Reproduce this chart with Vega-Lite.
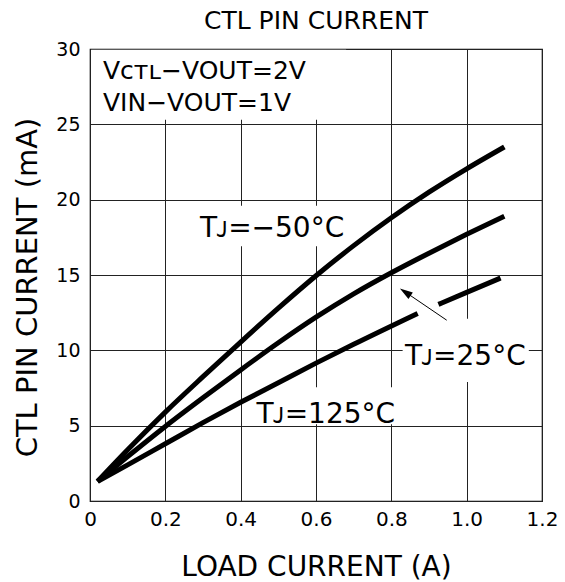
{
  "$schema": "https://vega.github.io/schema/vega-lite/v6.json",
  "width": 452,
  "height": 452,
  "autosize": {"type": "none"},
  "padding": {"left": 90, "top": 49, "right": 23, "bottom": 81},
  "background": "white",
  "config": {
    "view": {"stroke": "#000", "strokeWidth": 1.2},
    "font": "DejaVu Sans"
  },
  "title": {
    "text": "CTL PIN CURRENT",
    "font": "DejaVu Sans",
    "fontSize": 25,
    "fontWeight": "normal",
    "color": "#000",
    "anchor": "middle",
    "frame": "group",
    "baseline": "alphabetic",
    "offset": -14
  },
  "datasets": {
    "curves": [
      {"x": 0.02, "y": 1.3, "seg": "m50"},
      {"x": 0.1, "y": 3.4, "seg": "m50"},
      {"x": 0.2, "y": 5.9, "seg": "m50"},
      {"x": 0.3, "y": 8.25, "seg": "m50"},
      {"x": 0.4, "y": 10.55, "seg": "m50"},
      {"x": 0.5, "y": 12.8, "seg": "m50"},
      {"x": 0.6, "y": 14.95, "seg": "m50"},
      {"x": 0.7, "y": 16.95, "seg": "m50"},
      {"x": 0.8, "y": 18.8, "seg": "m50"},
      {"x": 0.9, "y": 20.5, "seg": "m50"},
      {"x": 1.0, "y": 22.05, "seg": "m50"},
      {"x": 1.1, "y": 23.5, "seg": "m50"},
      {"x": 0.02, "y": 1.3, "seg": "p25"},
      {"x": 0.1, "y": 2.95, "seg": "p25"},
      {"x": 0.2, "y": 4.95, "seg": "p25"},
      {"x": 0.3, "y": 6.85, "seg": "p25"},
      {"x": 0.4, "y": 8.7, "seg": "p25"},
      {"x": 0.5, "y": 10.5, "seg": "p25"},
      {"x": 0.6, "y": 12.2, "seg": "p25"},
      {"x": 0.7, "y": 13.75, "seg": "p25"},
      {"x": 0.8, "y": 15.15, "seg": "p25"},
      {"x": 0.9, "y": 16.45, "seg": "p25"},
      {"x": 1.0, "y": 17.7, "seg": "p25"},
      {"x": 1.1, "y": 18.9, "seg": "p25"},
      {"x": 0.02, "y": 1.3, "seg": "p125a"},
      {"x": 0.1, "y": 2.4, "seg": "p125a"},
      {"x": 0.2, "y": 3.8, "seg": "p125a"},
      {"x": 0.3, "y": 5.2, "seg": "p125a"},
      {"x": 0.4, "y": 6.55, "seg": "p125a"},
      {"x": 0.5, "y": 7.85, "seg": "p125a"},
      {"x": 0.6, "y": 9.15, "seg": "p125a"},
      {"x": 0.7, "y": 10.4, "seg": "p125a"},
      {"x": 0.87, "y": 12.45, "seg": "p125a"},
      {"x": 0.925, "y": 13.05, "seg": "p125b"},
      {"x": 1.0, "y": 13.85, "seg": "p125b"},
      {"x": 1.09, "y": 14.8, "seg": "p125b"}
    ],
    "boxes": [
      {"x": 0.003, "x2": 0.68, "y": 25.3, "y2": 29.95},
      {"x": 0.279, "x2": 0.69, "y": 16.9, "y2": 19.6},
      {"x": 0.83, "x2": 1.165, "y": 7.9, "y2": 12.1},
      {"x": 0.425, "x2": 0.823, "y": 5.1, "y2": 7.55}
    ],
    "notes": [
      {"x": 0.0345, "y": 27.98, "text": "Vᴄᴛʟ−VOUT=2V"},
      {"x": 0.0345, "y": 25.9, "text": "VIN−VOUT=1V"}
    ],
    "labels": [
      {"x": 0.292, "y": 17.54, "text": "Tᴊ=−50°C"},
      {"x": 0.836, "y": 9.02, "text": "Tᴊ=25°C"},
      {"x": 0.442, "y": 5.16, "text": "Tᴊ=125°C"}
    ],
    "arrow": [
      {"x": 0.947, "y": 12.0, "x2": 0.837, "y2": 13.87}
    ],
    "head": [
      {"x": 0.837, "y": 13.87}
    ]
  },
  "encoding": {
    "x": {
      "field": "x", "type": "quantitative",
      "scale": {"domain": [0, 1.2], "nice": false, "zero": false},
      "axis": {
        "values": [0, 0.2, 0.4, 0.6, 0.8, 1.0, 1.2],
        "labelExpr": "datum.value == 0 ? '0' : format(datum.value, '.1f')",
        "title": "LOAD CURRENT (A)",
        "titleFont": "DejaVu Sans",
        "titleFontSize": 28,
        "titleFontWeight": "normal",
        "titleColor": "#000",
        "titleBaseline": "alphabetic",
        "titleY": 74,
        "labelFont": "DejaVu Sans",
        "labelFontSize": 20,
        "labelColor": "#000",
        "labelPadding": 8,
        "labelOverlap": false,
        "labelFlush": false,
        "labelBound": false,
        "ticks": false,
        "domain": false,
        "grid": true,
        "gridColor": "#222",
        "gridWidth": 1,
        "gridOpacity": 1
      }
    },
    "y": {
      "field": "y", "type": "quantitative",
      "scale": {"domain": [0, 30], "nice": false, "zero": false},
      "axis": {
        "values": [0, 5, 10, 15, 20, 25, 30],
        "title": "CTL PIN CURRENT (mA)",
        "titleFont": "DejaVu Sans",
        "titleFontSize": 29,
        "titleFontWeight": "normal",
        "titleColor": "#000",
        "titleBaseline": "alphabetic",
        "titleAngle": 270,
        "titleAlign": "center",
        "titleX": -54,
        "titleY": 238,
        "labelFont": "DejaVu Sans",
        "labelFontSize": 19,
        "labelColor": "#000",
        "labelPadding": 10,
        "labelOverlap": false,
        "labelBound": false,
        "labelFlush": false,
        "ticks": false,
        "domain": false,
        "grid": true,
        "gridColor": "#222",
        "gridWidth": 1,
        "gridOpacity": 1
      }
    }
  },
  "layer": [
    {
      "data": {"name": "boxes"},
      "mark": {"type": "rect", "fill": "white", "stroke": null},
      "encoding": {
        "x2": {"field": "x2"},
        "y2": {"field": "y2"}
      }
    },
    {
      "data": {"name": "curves"},
      "mark": {"type": "line", "color": "#000", "strokeWidth": 5, "strokeCap": "butt", "interpolate": "monotone"},
      "encoding": {
        "detail": {"field": "seg", "type": "nominal"}
      }
    },
    {
      "data": {"name": "arrow"},
      "mark": {"type": "rule", "color": "#000", "strokeWidth": 1},
      "encoding": {
        "x2": {"field": "x2"},
        "y2": {"field": "y2"}
      }
    },
    {
      "data": {"name": "head"},
      "mark": {"type": "point", "shape": "M0,-1L0.6,1L-0.6,1Z", "size": 169, "angle": 304, "filled": true, "color": "#000", "opacity": 1},
      "encoding": {}
    },
    {
      "data": {"name": "notes"},
      "mark": {"type": "text", "align": "left", "baseline": "alphabetic", "font": "DejaVu Sans", "fontSize": 25, "color": "#000"},
      "encoding": {
        "text": {"field": "text"}
      }
    },
    {
      "data": {"name": "labels"},
      "mark": {"type": "text", "align": "left", "baseline": "alphabetic", "font": "DejaVu Sans", "fontSize": 28, "color": "#000"},
      "encoding": {
        "text": {"field": "text"}
      }
    }
  ]
}
